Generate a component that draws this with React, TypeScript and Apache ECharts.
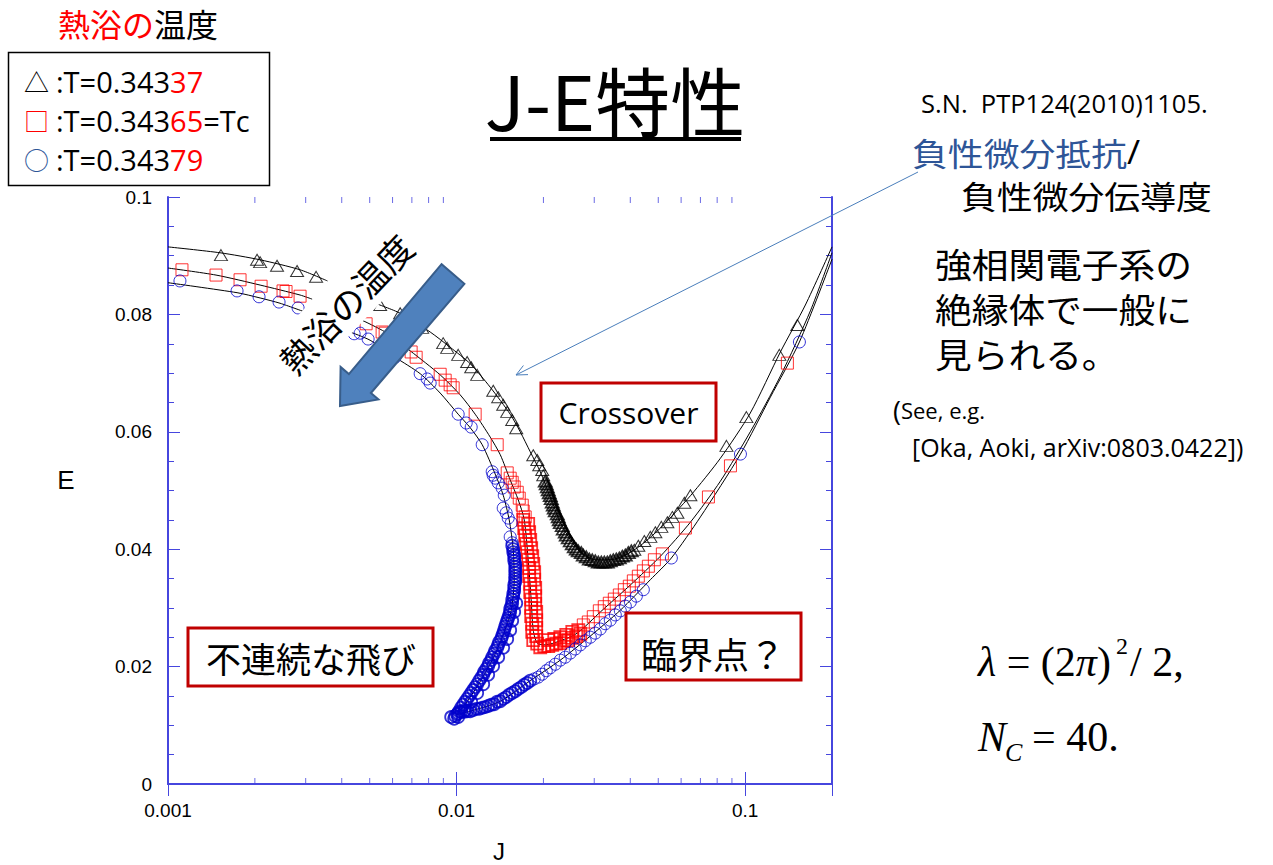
import React, { useEffect, useRef } from "react";
import * as echarts from "echarts";

// ---------- axis ranges / ticks ----------
const X_MIN = 0.001;
const X_MAX = 0.2;
const Y_MIN = 0;
const Y_MAX = 0.1;
const Y_INTERVAL = 0.02;
const xMinorTicks = [0.002, 0.003, 0.004, 0.005, 0.006, 0.007, 0.008, 0.009, 0.02, 0.03, 0.04, 0.05, 0.06, 0.07, 0.08, 0.09];

// ---------- T = 0.34337 (triangles) ----------
const triSparse: number[][] = [
  [0.001526, 0.0901], [0.002035, 0.0893], [0.002085, 0.0889], [0.002387, 0.0883], [0.002801, 0.0874], [0.00326, 0.0864],
  [0.005434, 0.0816], [0.006375, 0.0802], [0.0076, 0.0777], [0.008986, 0.0751], [0.009278, 0.0743], [0.01013, 0.0731],
  [0.01088, 0.0719], [0.01124, 0.071], [0.01179, 0.0697], [0.0134, 0.067], [0.01394, 0.0659], [0.01451, 0.0646],
  [0.01498, 0.0634], [0.01559, 0.062], [0.0161, 0.0606],
  [0.01844, 0.056], [0.01904, 0.0552], [0.01934, 0.0543], [0.01981, 0.0535], [0.01997, 0.0526],
  [0.04131, 0.0399], [0.04265, 0.0406], [0.04474, 0.0414], [0.04694, 0.0421], [0.04885, 0.0429], [0.05125, 0.0438],
  [0.05377, 0.0446], [0.05596, 0.0455], [0.05825, 0.0462], [0.06159, 0.0479], [0.06461, 0.0492], [0.08615, 0.0576],
  [0.101, 0.0625], [0.1314, 0.0731], [0.1517, 0.0782],
];
const triDense: number[][] = [
  [0.02029, 0.0516], [0.02045, 0.0511], [0.02062, 0.0506], [0.02078, 0.0501], [0.02095, 0.0496], [0.02112, 0.0491],
  [0.02129, 0.0486], [0.02146, 0.048], [0.02163, 0.0475], [0.0218, 0.047], [0.02198, 0.0465], [0.02233, 0.046],
  [0.02251, 0.0455], [0.02269, 0.045], [0.02288, 0.0445], [0.02324, 0.044], [0.02343, 0.0434], [0.0238, 0.0429],
  [0.024, 0.0424], [0.02438, 0.0419], [0.02478, 0.0414], [0.02518, 0.0409], [0.02558, 0.0404], [0.02599, 0.04],
  [0.02641, 0.0397], [0.02705, 0.0394], [0.02749, 0.039], [0.02815, 0.0387], [0.02884, 0.0383], [0.02953, 0.0382],
  [0.03025, 0.038], [0.03099, 0.0378], [0.03174, 0.0378], [0.03251, 0.0378], [0.0333, 0.0378], [0.0341, 0.038],
  [0.03493, 0.0382], [0.03577, 0.0383], [0.03665, 0.0385], [0.03753, 0.0388], [0.03844, 0.039], [0.03938, 0.0394],
  [0.04033, 0.0397],
];
const triFitA: number[][] = [[0.001, 0.0915], [0.001514, 0.0905], [0.002085, 0.0893], [0.002869, 0.0876], [0.00357, 0.0857]];
const triFitB: number[][] = [
  [0.005221, 0.0819], [0.006375, 0.0802], [0.008101, 0.077], [0.009502, 0.0744], [0.01115, 0.0716], [0.01308, 0.0676],
  [0.01534, 0.063], [0.01662, 0.06], [0.018, 0.0566], [0.0195, 0.0532], [0.02112, 0.0489], [0.02288, 0.0446],
  [0.02478, 0.0416], [0.02684, 0.0395], [0.03025, 0.0382], [0.0341, 0.0382], [0.03844, 0.039], [0.04334, 0.0406],
  [0.05085, 0.0436], [0.06461, 0.0491], [0.08211, 0.0555], [0.1042, 0.0632], [0.1325, 0.0736], [0.1617, 0.0816], [0.2, 0.0915],
];

// ---------- T = 0.34365 = Tc (squares) ----------
const sqSparse: number[][] = [
  [0.001118, 0.0876], [0.001467, 0.0867], [0.001777, 0.0859], [0.002102, 0.0848], [0.002504, 0.084], [0.002565, 0.0839], [0.002869, 0.0831],
  [0.00486, 0.0784], [0.005521, 0.077], [0.005655, 0.0768], [0.00696, 0.0736], [0.007244, 0.0727], [0.008774, 0.0698],
  [0.009131, 0.0688], [0.009502, 0.068], [0.009732, 0.0675], [0.0116, 0.063], [0.01383, 0.0578], [0.01498, 0.053],
  [0.01534, 0.0521], [0.01559, 0.0514], [0.01584, 0.0506], [0.01623, 0.0497], [0.01649, 0.0487], [0.01689, 0.0475],
  [0.01702, 0.0465], [0.01729, 0.0455],
  [0.02749, 0.0271], [0.02861, 0.0276], [0.02977, 0.0285], [0.03124, 0.0295], [0.0325, 0.0302], [0.03383, 0.0308],
  [0.03521, 0.0315], [0.03665, 0.0322], [0.03814, 0.0331], [0.03969, 0.0337], [0.04098, 0.0346], [0.04265, 0.0354],
  [0.04439, 0.0363], [0.0462, 0.0371], [0.04846, 0.0382], [0.05166, 0.0392], [0.06208, 0.0436], [0.07461, 0.0489],
  [0.08894, 0.0542], [0.1401, 0.0717],
];
const sqDense: number[][] = [
  [0.01702, 0.045], [0.01771, 0.0443], [0.01716, 0.0436], [0.01785, 0.0429], [0.01729, 0.0423], [0.018, 0.0416],
  [0.01743, 0.0409], [0.01814, 0.0402], [0.01757, 0.0395], [0.01829, 0.0388], [0.01771, 0.0382], [0.01844, 0.0375],
  [0.01785, 0.0368], [0.01858, 0.0361], [0.01785, 0.0354], [0.01858, 0.0348], [0.018, 0.0341], [0.01873, 0.0334],
  [0.018, 0.0327], [0.01873, 0.032], [0.01814, 0.0314], [0.01873, 0.0307], [0.01814, 0.03], [0.01888, 0.0293],
  [0.01814, 0.0286], [0.01888, 0.0279], [0.01829, 0.0273], [0.01888, 0.0266], [0.01829, 0.0259], [0.01888, 0.0252],
  [0.01844, 0.0245], [0.01903, 0.0239],
  [0.0195, 0.0233], [0.02013, 0.0235], [0.02079, 0.0235], [0.02146, 0.0237], [0.02215, 0.0239], [0.02288, 0.024],
  [0.02361, 0.0244], [0.02438, 0.0245], [0.02518, 0.0249], [0.02599, 0.0252], [0.02684, 0.0256],
  [0.02079, 0.0245], [0.0218, 0.0247], [0.02288, 0.025], [0.024, 0.0254], [0.02518, 0.0259], [0.02641, 0.0262],
];
const sqFitA: number[][] = [[0.001, 0.0879], [0.001467, 0.0867], [0.002085, 0.085], [0.002869, 0.0833], [0.003158, 0.0826]];
const sqFitB: number[][] = [
  [0.004706, 0.079], [0.005655, 0.077], [0.006905, 0.0738], [0.008774, 0.0697], [0.01029, 0.0663], [0.0116, 0.063],
  [0.01308, 0.0591], [0.01417, 0.0561], [0.01534, 0.0518], [0.01636, 0.0484], [0.01716, 0.045], [0.01771, 0.0382],
  [0.01814, 0.0314], [0.01844, 0.0262], [0.01903, 0.024], [0.02029, 0.0237], [0.02288, 0.0244], [0.0262, 0.0257],
  [0.03149, 0.0293], [0.04001, 0.0339], [0.05085, 0.0388], [0.06461, 0.0446], [0.08211, 0.0516], [0.1042, 0.06],
  [0.1325, 0.0695], [0.1683, 0.0806], [0.2, 0.0905],
];

// ---------- T = 0.34379 (circles) ----------
const circSparse: number[][] = [
  [0.0011, 0.0857], [0.001735, 0.084], [0.002068, 0.083], [0.002426, 0.0821], [0.002824, 0.0811],
  [0.004416, 0.0767], [0.004632, 0.0768], [0.004938, 0.0758], [0.006125, 0.0727], [0.007479, 0.0699], [0.00791, 0.069],
  [0.008101, 0.0683], [0.01013, 0.063], [0.0108, 0.0615], [0.01124, 0.0608], [0.01227, 0.0578], [0.01329, 0.0532],
  [0.01339, 0.0526], [0.01361, 0.0521], [0.01394, 0.0513], [0.01439, 0.0504], [0.01463, 0.0492], [0.01451, 0.047],
  [0.01486, 0.0462], [0.0151, 0.0453], [0.01547, 0.0445], [0.01534, 0.0421], [0.01559, 0.0411],
  [0.01858, 0.0179], [0.01919, 0.0182], [0.01981, 0.0187], [0.02046, 0.0193], [0.02112, 0.0198],
  [0.02198, 0.0204], [0.02288, 0.0211], [0.0238, 0.0216], [0.02478, 0.0223], [0.02578, 0.023], [0.02684, 0.0237],
  [0.02793, 0.0244], [0.02907, 0.025], [0.03025, 0.0257], [0.03149, 0.0264], [0.03277, 0.0273], [0.0341, 0.0279],
  [0.03549, 0.0288], [0.03694, 0.0295], [0.03844, 0.0303], [0.04001, 0.031], [0.04198, 0.032], [0.04439, 0.0331],
  [0.05551, 0.0385], [0.09633, 0.0562], [0.1542, 0.0753],
];
const circDense: number[][] = [
  [0.01559, 0.0406], [0.01572, 0.04], [0.01572, 0.0395], [0.01584, 0.039], [0.01584, 0.0385], [0.01584, 0.038],
  [0.01597, 0.0375], [0.01597, 0.037], [0.01597, 0.0365], [0.01597, 0.036], [0.01597, 0.0354], [0.01597, 0.0349],
  [0.01597, 0.0344], [0.01584, 0.0339], [0.01584, 0.0334], [0.01584, 0.0329], [0.01572, 0.0324], [0.01572, 0.0319],
  [0.01559, 0.0314], [0.01559, 0.0308], [0.01547, 0.0303], [0.01534, 0.0298], [0.01534, 0.0293], [0.01522, 0.0288],
  [0.0151, 0.0283], [0.01498, 0.0278], [0.01486, 0.0273], [0.01474, 0.0268], [0.01462, 0.0262], [0.01451, 0.0257],
  [0.01439, 0.0252], [0.01428, 0.0247], [0.01405, 0.0242], [0.01394, 0.0237], [0.01383, 0.0232], [0.01361, 0.0227],
  [0.0135, 0.0222], [0.01329, 0.0216], [0.01318, 0.0211], [0.01297, 0.0206], [0.01287, 0.0201], [0.01267, 0.0196],
  [0.01246, 0.0191], [0.01237, 0.0186], [0.01217, 0.0181], [0.01198, 0.0176], [0.01179, 0.017], [0.0116, 0.0165],
  [0.01142, 0.016], [0.01124, 0.0155], [0.01106, 0.015], [0.01088, 0.0145], [0.01071, 0.014], [0.01054, 0.0135],
  [0.01037, 0.013], [0.01021, 0.0124], [0.01005, 0.0119], [0.009889, 0.0116], [0.009578, 0.0114], [0.00981, 0.0111], [0.01013, 0.0114],
  [0.0161, 0.0308], [0.01584, 0.0293], [0.01559, 0.0278], [0.01534, 0.0262], [0.01498, 0.0247], [0.01451, 0.0232],
  [0.01394, 0.0216], [0.01339, 0.0201], [0.01287, 0.0186], [0.01237, 0.017], [0.01179, 0.0155], [0.01124, 0.014], [0.01071, 0.0126],
  [0.01013, 0.0121], [0.01037, 0.0123], [0.01062, 0.0123], [0.01088, 0.0124], [0.01115, 0.0124], [0.01142, 0.0126],
  [0.0117, 0.0128], [0.01198, 0.0128], [0.01227, 0.013], [0.01256, 0.0131], [0.01287, 0.0133], [0.01318, 0.0135],
  [0.0135, 0.0136], [0.01383, 0.014], [0.01417, 0.0141], [0.01451, 0.0145], [0.01486, 0.0148], [0.01522, 0.0152],
  [0.01559, 0.0155], [0.01597, 0.0158], [0.01636, 0.0162], [0.01675, 0.0165], [0.01716, 0.0169], [0.01757, 0.0172],
  [0.018, 0.0176],
];
const circFitA: number[][] = [[0.001, 0.0854], [0.001735, 0.0837], [0.002085, 0.0828], [0.002445, 0.0819], [0.002986, 0.0804]];
const circFitB: number[][] = [
  [0.004277, 0.077], [0.005017, 0.0756], [0.006125, 0.0727], [0.007479, 0.0699], [0.008774, 0.0666], [0.01013, 0.063],
  [0.01115, 0.0607], [0.01227, 0.0578], [0.01361, 0.0528], [0.01451, 0.0492], [0.01522, 0.045], [0.01572, 0.0399],
  [0.01584, 0.0348], [0.01547, 0.0296], [0.01451, 0.0254], [0.01329, 0.0211], [0.01188, 0.0169], [0.01071, 0.0136],
  [0.009968, 0.0118], [0.01115, 0.0124], [0.01417, 0.0141], [0.018, 0.0176], [0.02288, 0.0211], [0.02907, 0.0252],
  [0.03694, 0.0296], [0.04694, 0.0348], [0.05551, 0.0385], [0.06999, 0.0455], [0.09633, 0.0562], [0.1223, 0.0659],
  [0.1542, 0.0753], [0.2, 0.0894],
];

// ---------- styles ----------
const AXIS = "#4646de";
const JP = "'Noto Sans CJK JP', sans-serif";
const LAT = "'Open Sans', 'Noto Sans', sans-serif";
const NUM = "'Liberation Sans Narrow', 'Liberation Sans', Arial, sans-serif";
const SANS = "'Liberation Sans', Arial, sans-serif";
const SERIF = "'Liberation Serif', 'DejaVu Serif', serif";
const RED = "#ff0000";
const BOX = "#c00000";
const NAVY = "#2e5597";
const BLUE_MK = "#0000cc";

function txt(x: number, y: number, text: string, fontSize: number, extra: any = {}, elExtra: any = {}) {
  return {
    type: "text",
    x,
    y,
    z: 60,
    ...elExtra,
    style: {
      text,
      fontSize,
      fontFamily: JP,
      fill: "#000",
      textAlign: "left",
      textVerticalAlign: "middle",
      ...extra,
    },
  };
}

function boxed(x: number, y: number, w: number, h: number) {
  return {
    type: "rect",
    z: 55,
    shape: { x, y, width: w, height: h },
    style: { fill: "#fff", stroke: BOX, lineWidth: 3 },
  };
}

function fitLine(data: number[][]) {
  return {
    type: "line",
    data,
    showSymbol: false,
    symbol: "none",
    smooth: 0.25,
    lineStyle: { color: "#000", width: 1 },
    silent: true,
    z: 2,
  };
}

function markers(data: number[][], symbol: string, size: any, color: string, bw: number) {
  return {
    type: "scatter",
    data,
    symbol,
    symbolSize: size,
    itemStyle: { color: "rgba(0,0,0,0)", borderColor: color, borderWidth: bw },
    silent: true,
    z: 3,
  };
}

// big arrow outline (screen pixels, decoration)
const arrowPts = [
  [441.6, 264.2], [348.9, 374.1], [340.6, 367.0], [340, 406], [378.4, 399.4], [370.9, 393.0], [464.4, 283.8],
];

export default function App() {
  const ref = useRef<HTMLDivElement>(null);
  useEffect(() => {
    const chart = echarts.init(ref.current!, null, { renderer: "svg" });
    const axisCommon = {
      axisLine: { show: true, lineStyle: { color: AXIS, width: 2 } },
      axisTick: { show: true, inside: true, length: 12, lineStyle: { color: AXIS, width: 1 } },
      splitLine: { show: false },
    };
    const redRich = { r: { fill: RED, fontSize: 29, fontFamily: LAT } };
    const option: any = {
      animation: false,
      backgroundColor: "#fff",
      grid: { left: 168, top: 197, width: 664, height: 587, containLabel: false },
      xAxis: [
        {
          type: "log",
          logBase: 10,
          min: X_MIN,
          max: X_MAX,
          position: "bottom",
          ...axisCommon,
          axisLabel: { color: "#000", fontSize: 19, fontFamily: NUM, margin: 17, showMaxLabel: false },
        },
        {
          type: "log",
          logBase: 10,
          min: X_MIN,
          max: X_MAX,
          position: "top",
          ...axisCommon,
          axisLabel: { show: false },
        },
      ],
      yAxis: [
        {
          type: "value",
          min: Y_MIN,
          max: Y_MAX,
          interval: Y_INTERVAL,
          position: "left",
          ...axisCommon,
          minorTick: { show: true, splitNumber: 4, length: 6, lineStyle: { color: AXIS, width: 1 } },
          axisLabel: { color: "#000", fontSize: 19, fontFamily: NUM, margin: 16 },
        },
        {
          type: "value",
          min: Y_MIN,
          max: Y_MAX,
          interval: Y_INTERVAL,
          position: "right",
          ...axisCommon,
          minorTick: { show: true, splitNumber: 4, length: 6, lineStyle: { color: AXIS, width: 1 } },
          axisLabel: { show: false },
        },
      ],
      series: [
        fitLine(triFitA),
        fitLine(triFitB),
        fitLine(sqFitA),
        fitLine(sqFitB),
        fitLine(circFitA),
        fitLine(circFitB),
        markers(triSparse, "triangle", [13, 11], "#000", 1),
        markers(triDense, "triangle", [13, 11], "#000", 1.8),
        markers(sqSparse, "rect", 12, RED, 1),
        markers(sqDense, "rect", 12, RED, 1.8),
        markers(circSparse, "circle", 12, BLUE_MK, 1),
        markers(circDense, "circle", 12, BLUE_MK, 1.8),
        {
          type: "scatter",
          data: xMinorTicks.map((v) => [v, Y_MIN]),
          symbol: "rect",
          symbolSize: [1, 6],
          symbolOffset: [0, -3],
          itemStyle: { color: AXIS },
          silent: true,
          clip: false,
          z: 5,
        },
        {
          type: "scatter",
          data: xMinorTicks.map((v) => [v, Y_MAX]),
          symbol: "rect",
          symbolSize: [1, 6],
          symbolOffset: [0, 3],
          itemStyle: { color: AXIS },
          silent: true,
          clip: false,
          z: 5,
        },
      ],
      graphic: [
        // header
        txt(58, 23, "{r|熱浴の}温度", 32, { lineHeight: 34, rich: { r: { fill: RED, fontSize: 32, fontFamily: JP, lineHeight: 34 } } }),
        // legend box
        { type: "rect", z: 55, shape: { x: 8.5, y: 52.5, width: 261, height: 133 }, style: { fill: "#fff", stroke: "#000", lineWidth: 1.5 } },
        txt(24, 81, "△", 25),
        txt(24, 120, "□", 25, { fill: RED }),
        txt(24, 159, "○", 25, { fill: NAVY }),
        txt(56, 81, ":T=0.343{r|37}", 29, { fontFamily: LAT, rich: redRich }),
        txt(56, 120, ":T=0.343{r|65}=Tc", 29, { fontFamily: LAT, rich: redRich }),
        txt(56, 159, ":T=0.343{r|79}", 29, { fontFamily: LAT, rich: redRich }),
        // title
        txt(615, 98, "J-E特性", 75, { textAlign: "center" }),
        { type: "rect", z: 60, shape: { x: 490, y: 137, width: 251, height: 4 }, style: { fill: "#000" } },
        // right side texts
        txt(921, 103, "S.N.\u00a0 PTP124(2010)1105.", 25.5, { fontFamily: LAT }),
        txt(912, 152, "負性微分抵抗{k|/}", 32, { fill: NAVY, lineHeight: 34, rich: { k: { fill: "#000", fontSize: 32, fontFamily: LAT, lineHeight: 34 } } }, { scaleX: 1.12 }),
        txt(961, 195, "負性微分伝導度", 32, { lineHeight: 34 }, { scaleX: 1.12 }),
        txt(935, 263, "強相関電子系の", 34, { lineHeight: 36 }, { scaleX: 1.08 }),
        txt(935, 308, "絶縁体で一般に", 34, { lineHeight: 36 }, { scaleX: 1.08 }),
        txt(935, 353, "見られる。", 34, { lineHeight: 36 }, { scaleX: 1.08 }),
        txt(893, 410, "{p|(}See, e.g.", 22, { fontFamily: LAT, rich: { p: { fontSize: 27, fontFamily: LAT, fill: "#000" } } }),
        txt(912, 447, "[Oka, Aoki, arXiv:0803.0422])", 25, { fontFamily: LAT }),
        // formula
        txt(978, 662, "{i|λ} = (2{i|π})", 42, { fontFamily: SERIF, rich: { i: { fontStyle: "italic", fontSize: 42, fontFamily: SERIF } } }),
        txt(1116, 646, "2", 24, { fontFamily: SERIF }),
        txt(1130, 662, "/ 2,", 42, { fontFamily: SERIF }),
        txt(978, 737, "N", 42, { fontFamily: SERIF, fontStyle: "italic" }),
        txt(1005, 752, "C", 26, { fontFamily: SERIF, fontStyle: "italic" }),
        txt(1032, 737, "= 40.", 42, { fontFamily: SERIF }),
        // in-plot boxes
        boxed(541, 383, 175, 58),
        txt(628.5, 412, "Crossover", 30, { fontFamily: LAT, textAlign: "center" }),
        boxed(188, 628, 245, 58),
        txt(311, 657, "不連続な飛び", 35, { textAlign: "center" }),
        boxed(626, 613, 175, 67),
        txt(713, 653, "臨界点？", 36, { textAlign: "center" }),
        // rotated label with white backing
        txt(345, 303, "熱浴の温度", 35, { textAlign: "center", backgroundColor: "#fff", padding: [8, 10] }, { rotation: 0.81, z: 40 }),
        // big arrow
        {
          type: "polygon",
          z: 45,
          shape: { points: arrowPts },
          style: { fill: "#4f81bd", stroke: "#385d8a", lineWidth: 2 },
        },
        // thin pointer arrow
        { type: "line", z: 45, shape: { x1: 918, y1: 172, x2: 516, y2: 375 }, style: { stroke: "#4a7ebb", lineWidth: 1 } },
        { type: "polyline", z: 45, shape: { points: [[528, 374.6], [516, 375], [523.4, 365.5]] }, style: { stroke: "#4a7ebb", lineWidth: 1, fill: null } },
        // axis names
        txt(66, 480, "E", 26, { fontFamily: SANS, textAlign: "center" }),
        txt(499, 851, "J", 24, { fontFamily: SANS, textAlign: "center", lineHeight: 24 }),
      ],
    };
    chart.setOption(option);
    return () => chart.dispose();
  }, []);
  return (
    <div
      ref={ref}
      style={{ position: "absolute", left: 0, top: 0, width: 1273, height: 865, background: "#fff" }}
    />
  );
}
